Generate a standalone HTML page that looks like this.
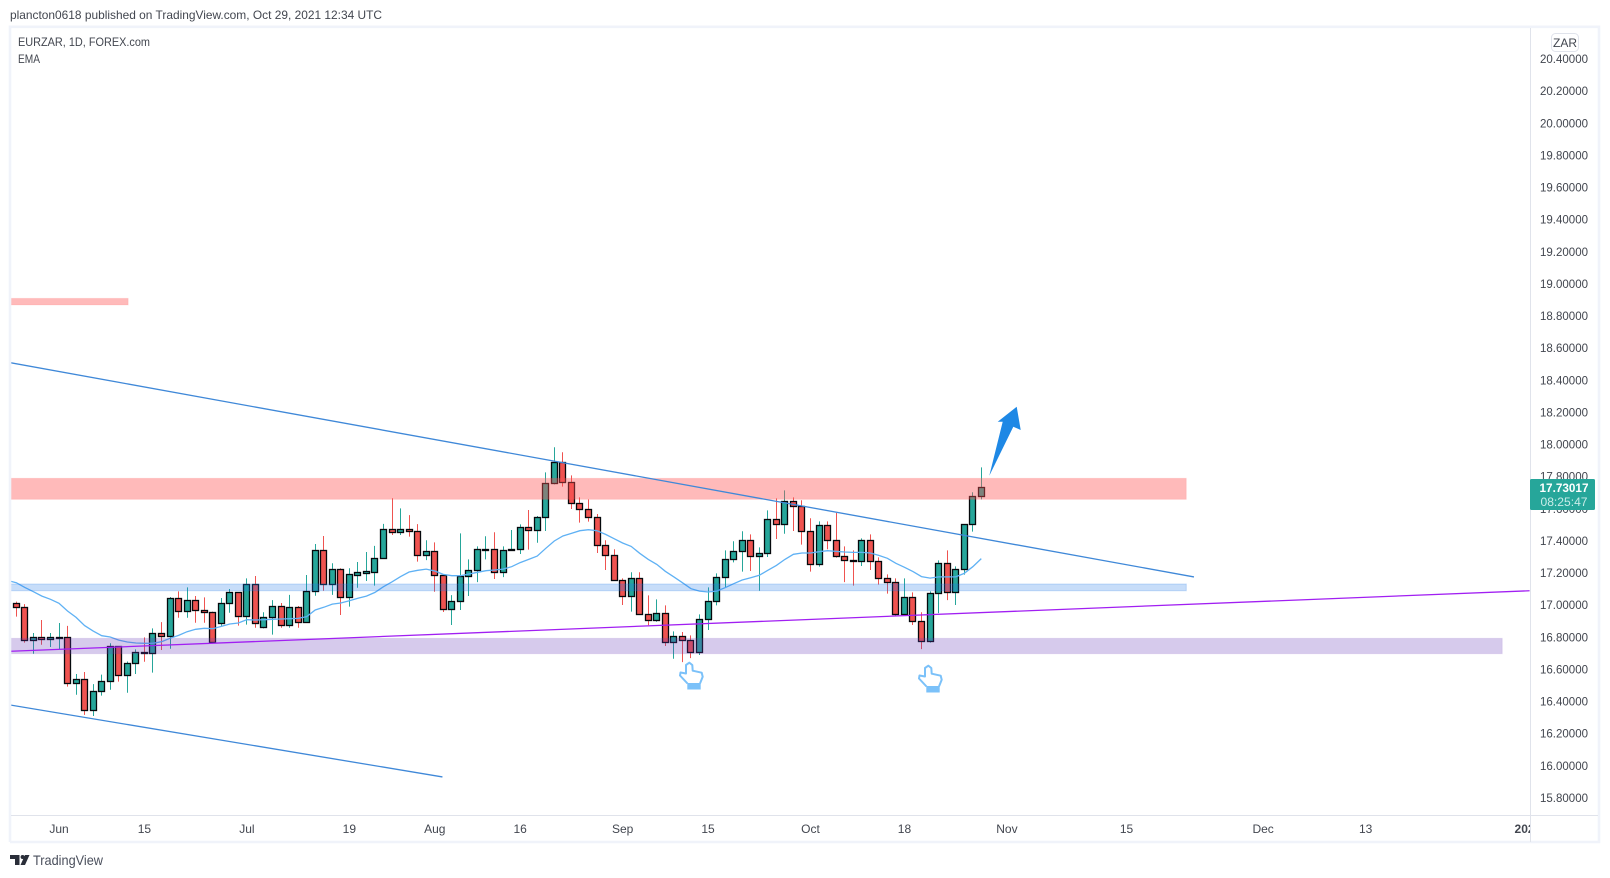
<!DOCTYPE html>
<html lang="en">
<head>
<meta charset="utf-8">
<title>EURZAR 1D chart</title>
<style>
html,body{margin:0;padding:0;background:#fff;width:1610px;height:878px;overflow:hidden}
svg{display:block;position:absolute;left:0;top:0}
text{font-family:"Liberation Sans",Arial,sans-serif;fill:#42464f}
</style>
</head>
<body>
<svg id="chart" width="1610" height="878" viewBox="0 0 1610 878" xmlns="http://www.w3.org/2000/svg">
  <defs>
    <clipPath id="plot-clip"><rect x="11" y="28" width="1519" height="787"/></clipPath>
    <clipPath id="time-clip"><rect x="11" y="816" width="1519" height="26"/></clipPath>
  </defs>
  <text x="10" y="19" font-size="12" textLength="372" lengthAdjust="spacingAndGlyphs">plancton0618 published on TradingView.com, Oct 29, 2021 12:34 UTC</text>
  <g id="plot" clip-path="url(#plot-clip)">
    <g id="candles"></g>
    <path id="ema" fill="none" stroke="#5fb1f4" stroke-width="1.3"></path>
    <g id="zones"></g>
    <g id="lines"></g>
    <polygon points="989.3,475.7 1002.7,421.7 997.7,421.7 1016.7,406.7 1020.7,430 1013.3,426.7" fill="#1e88e5"/>
    <g transform="translate(660,640)">
      <path d="M27.5,43.5 L20,35.5 L20.5,32.5 L26,33.5 L26,25 L29.3,22.7 L32.3,25 L32.7,30.7 L41.7,32.7 L42.7,36.7 L40,43.5" fill="#fff" stroke="#7bc1f9" stroke-width="2" stroke-linejoin="round"/>
      <path d="M27.3,43 H40.7 V49.5 H27.3 Z" fill="#7bc1f9"/>
    </g>
    <g transform="translate(899,643)">
      <path d="M27.5,43.5 L20,35.5 L20.5,32.5 L26,33.5 L26,25 L29.3,22.7 L32.3,25 L32.7,30.7 L41.7,32.7 L42.7,36.7 L40,43.5" fill="#fff" stroke="#7bc1f9" stroke-width="2" stroke-linejoin="round"/>
      <path d="M27.3,43 H40.7 V49.5 H27.3 Z" fill="#7bc1f9"/>
    </g>
  </g>
  <text x="18" y="46" font-size="12" textLength="132" lengthAdjust="spacingAndGlyphs">EURZAR, 1D, FOREX.com</text>
  <text x="18" y="63" font-size="12" textLength="22" lengthAdjust="spacingAndGlyphs">EMA</text>
  <g fill="none">
    <path d="M10,842 V26.8 H1599 V842 H10" stroke="#f0f3fa" stroke-width="2.6"/>
    <path d="M11,815.5 H1598" stroke="#e0e3eb" stroke-width="1"/>
    <path d="M1530.5,28 V842" stroke="#e0e3eb" stroke-width="1"/>
  </g>
  <g id="price-axis"></g>
  <g id="time-axis" clip-path="url(#time-clip)"></g>
  <g>
    <rect x="1551.5" y="33.5" width="27" height="18" rx="4" fill="#fff" stroke="#e0e3eb"/>
    <text x="1565" y="47" font-size="12" text-anchor="middle">ZAR</text>
  </g>
  <g>
    <rect x="1530" y="479" width="65" height="31" rx="1.5" fill="#26a69a"/>
    <text x="1564" y="492" font-size="12" font-weight="700" text-anchor="middle" textLength="49" lengthAdjust="spacingAndGlyphs" style="fill:#fff">17.73017</text>
    <text x="1564" y="506" font-size="12" text-anchor="middle" textLength="47" lengthAdjust="spacingAndGlyphs" style="fill:#c9ece8">08:25:47</text>
  </g>
  <g>
    <path d="M10,855 H19.5 V865 H15 V859 H10 Z" fill="#2a2e39"/>
    <circle cx="22.6" cy="857" r="2" fill="#2a2e39"/>
    <path d="M25,855 H29.5 L25,865 H20.5 Z" fill="#2a2e39"/>
    <text x="33" y="865" font-size="14" textLength="70" lengthAdjust="spacingAndGlyphs" style="fill:#4a4f5c">TradingView</text>
  </g>
</svg>
<script>
var opens=[17.012,16.987,16.781,16.800,16.788,16.800,16.804,16.514,16.539,16.346,16.464,16.526,16.744,16.563,16.638,16.707,16.700,16.825,16.806,17.043,16.962,17.030,16.968,16.960,16.887,17.012,17.080,16.931,17.130,16.862,16.924,16.993,16.875,16.987,16.893,17.087,17.342,17.134,17.224,17.053,17.190,17.203,17.209,17.292,17.472,17.454,17.472,17.460,17.310,17.335,17.186,16.978,17.024,17.180,17.217,17.348,17.348,17.205,17.342,17.348,17.485,17.466,17.547,17.759,17.889,17.765,17.634,17.597,17.547,17.373,17.310,17.155,17.059,17.167,16.943,16.906,16.949,16.769,16.806,16.781,16.707,16.912,17.024,17.173,17.285,17.335,17.404,17.304,17.323,17.534,17.503,17.647,17.615,17.460,17.254,17.497,17.404,17.304,17.279,17.273,17.404,17.273,17.167,17.142,16.943,17.049,16.900,16.775,17.074,17.261,17.080,17.223,17.503,17.678];
var highs=[17.022,17.007,16.827,16.908,16.827,16.889,16.871,16.572,16.584,16.509,16.568,16.763,16.744,16.650,16.725,16.800,16.856,16.895,17.051,17.086,17.111,17.057,17.049,16.960,17.045,17.101,17.080,17.167,17.182,16.956,17.032,17.014,17.064,16.995,17.188,17.381,17.431,17.261,17.230,17.230,17.269,17.331,17.369,17.506,17.666,17.603,17.561,17.505,17.404,17.391,17.186,17.063,17.447,17.285,17.366,17.429,17.454,17.366,17.468,17.503,17.593,17.555,17.827,17.983,17.952,17.808,17.671,17.659,17.568,17.404,17.348,17.167,17.205,17.205,17.061,17.036,16.999,16.837,16.833,16.812,16.943,17.111,17.198,17.341,17.398,17.460,17.441,17.360,17.590,17.665,17.715,17.671,17.653,17.541,17.522,17.522,17.574,17.366,17.341,17.416,17.441,17.298,17.192,17.167,17.167,17.080,16.956,17.086,17.279,17.341,17.242,17.503,17.703,17.858];
var lows=[16.929,16.767,16.698,16.754,16.740,16.725,16.493,16.443,16.317,16.310,16.437,16.474,16.524,16.455,16.572,16.648,16.580,16.721,16.729,16.922,16.922,16.891,16.891,16.767,16.871,16.953,16.873,16.879,16.860,16.856,16.817,16.860,16.860,16.860,16.893,17.059,17.090,17.064,16.939,16.991,17.109,17.151,17.122,17.292,17.437,17.437,17.427,17.271,17.281,17.084,16.958,16.877,16.970,17.057,17.144,17.285,17.163,17.175,17.339,17.319,17.346,17.389,17.462,17.752,17.738,17.599,17.514,17.520,17.325,17.219,17.155,17.001,16.960,16.943,16.875,16.897,16.746,16.667,16.646,16.671,16.690,16.846,16.999,17.111,17.267,17.209,17.213,17.090,17.300,17.412,17.445,17.462,17.377,17.209,17.240,17.348,17.296,17.144,17.122,17.244,17.219,17.128,17.072,16.935,16.943,16.877,16.727,16.767,16.951,17.032,17.001,17.190,17.458,17.659];
var closes=[16.987,16.781,16.800,16.788,16.800,16.804,16.514,16.539,16.346,16.464,16.526,16.744,16.563,16.638,16.707,16.700,16.825,16.806,17.043,16.962,17.030,16.968,16.960,16.769,17.012,17.080,16.931,17.130,16.887,16.924,16.993,16.875,16.987,16.893,17.086,17.342,17.134,17.224,17.053,17.192,17.205,17.211,17.292,17.472,17.454,17.472,17.460,17.310,17.335,17.186,16.978,17.024,17.180,17.217,17.348,17.350,17.205,17.342,17.348,17.485,17.466,17.547,17.759,17.889,17.765,17.634,17.597,17.547,17.373,17.310,17.155,17.059,17.167,16.943,16.906,16.949,16.769,16.806,16.781,16.707,16.912,17.024,17.173,17.285,17.335,17.404,17.304,17.323,17.534,17.503,17.647,17.615,17.460,17.254,17.497,17.404,17.304,17.279,17.273,17.404,17.273,17.167,17.142,16.943,17.049,16.900,16.775,17.074,17.261,17.080,17.223,17.503,17.678,17.734];
/* EMA series: first value belongs to the bar just before the first visible candle */
var emaValues=[17.153,17.140,17.111,17.084,17.057,17.037,17.012,16.964,16.924,16.873,16.839,16.810,16.802,16.783,16.771,16.765,16.763,16.763,16.773,16.794,16.812,16.835,16.850,16.856,16.854,16.868,16.883,16.889,16.910,16.908,16.910,16.912,16.914,16.916,16.918,16.929,16.970,16.987,17.007,17.014,17.028,17.043,17.057,17.080,17.115,17.146,17.178,17.207,17.217,17.225,17.213,17.192,17.184,17.184,17.194,17.205,17.215,17.219,17.225,17.240,17.265,17.285,17.306,17.354,17.400,17.431,17.447,17.464,17.470,17.464,17.441,17.414,17.387,17.366,17.323,17.285,17.254,17.211,17.176,17.140,17.103,17.088,17.082,17.088,17.109,17.134,17.157,17.171,17.186,17.217,17.248,17.285,17.317,17.325,17.325,17.333,17.339,17.335,17.331,17.329,17.329,17.325,17.310,17.292,17.261,17.236,17.209,17.178,17.169,17.176,17.176,17.176,17.198,17.240,17.290];
var priceTicks=["20.40000","20.20000","20.00000","19.80000","19.60000","19.40000","19.20000","19.00000","18.80000","18.60000","18.40000","18.20000","18.00000","17.80000","17.60000","17.40000","17.20000","17.00000","16.80000","16.60000","16.40000","16.20000","16.00000","15.80000"];
var timeLabels=["Jun","15","Jul","19","Aug","16","Sep","15","Oct","18","Nov","15","Dec","13","2022"];
var timeBars=[5,15,27,39,49,59,71,81,93,104,116,130,146,158,177];
var zoneBars=[[-1,13.1],[-1,137],[-1,137],[-1,174]];
var zoneTops=[18.910,17.790,17.132,16.794];
var zoneBottoms=[18.869,17.659,17.090,16.698];
var zoneNames=["resistance-zone-high","resistance-zone","support-zone-blue","support-zone-purple"];
var zoneFills=["rgba(255,82,82,0.4)","rgba(255,82,82,0.4)","rgba(30,120,230,0.25)","rgba(103,58,183,0.27)"];
var zoneEdges=["rgba(255,82,82,0.12)","rgba(255,82,82,0.12)","rgba(30,120,230,0.22)","rgba(103,58,183,0.1)"];
var lineBars=[[-0.74,137.9],[-0.74,49.9],[-0.74,177.2]];
var linePrices=[[18.510,17.176],[16.379,15.931],[16.713,17.090]];
var lineNames=["upper-trend-line","lower-trend-line","purple-support-line"];
var lineColors=["#3f88d8","#3f88d8","#a11ff2"];

var NS="http://www.w3.org/2000/svg";
function xOf(i){return 16.3+8.54*i;}
function yOf(p){return 59+(20.4-p)*160.65;}
function mk(tag,attrs,parent){
  var el=document.createElementNS(NS,tag);
  for(var k in attrs){el.setAttribute(k,attrs[k]);}
  parent.appendChild(el);
  return el;
}
var candleLayer=document.getElementById('candles');
opens.forEach(function(o,i){
  var c=closes[i],up=c>=o,col=up?'#26a69a':'#ef5350';
  var cx=Math.round(xOf(i)-0.5)+0.5;
  var g=mk('g',{},candleLayer);
  
  
  var wick=mk('line',{x1:cx,x2:cx,y1:yOf(highs[i]),y2:yOf(lows[i]),stroke:col,'stroke-width':1},g);
  
  
  var top=Math.round(yOf(Math.max(o,c)))+0.5;
  var bottom=Math.round(yOf(Math.min(o,c)))+0.5;
  var body=mk('rect',{x:cx-3,y:top,width:6,height:Math.max(bottom-top,1),fill:col,stroke:'#05080c','stroke-width':1.3},g);
  
  
});
document.getElementById('ema').setAttribute('d',emaValues.map(function(v,i){
  return (i?'L':'M')+xOf(i-1).toFixed(1)+','+yOf(v).toFixed(1);
}).join(' '));
var zoneLayer=document.getElementById('zones');
zoneNames.forEach(function(n,i){
  var x0=xOf(zoneBars[i][0]),x1=xOf(zoneBars[i][1]);
  var t=yOf(zoneTops[i]),b=yOf(zoneBottoms[i]);
  var z=mk('rect',{x:x0,y:t,width:x1-x0,height:b-t,fill:zoneFills[i],stroke:zoneEdges[i],'stroke-width':1},zoneLayer);
  
  
});
var lineLayer=document.getElementById('lines');
lineNames.forEach(function(n,i){
  var l=mk('line',{x1:xOf(lineBars[i][0]),x2:xOf(lineBars[i][1]),y1:yOf(linePrices[i][0]),y2:yOf(linePrices[i][1]),stroke:lineColors[i],'stroke-width':1.3},lineLayer);
  
  
});
var priceAxis=document.getElementById('price-axis');
priceTicks.forEach(function(t){
  var label=mk('text',{x:1588,y:yOf(parseFloat(t))+4,'font-size':12,'text-anchor':'end',textLength:48,lengthAdjust:'spacingAndGlyphs'},priceAxis);
  label.textContent=t;
  
  
});
var timeAxis=document.getElementById('time-axis');
timeLabels.forEach(function(t,i){
  var label=mk('text',{x:xOf(timeBars[i]),y:833,'font-size':12,'text-anchor':'middle'},timeAxis);
  if(t==='2022'){label.setAttribute('font-weight','700');}
  label.textContent=t;
  
  
});
</script>
</body>
</html>
